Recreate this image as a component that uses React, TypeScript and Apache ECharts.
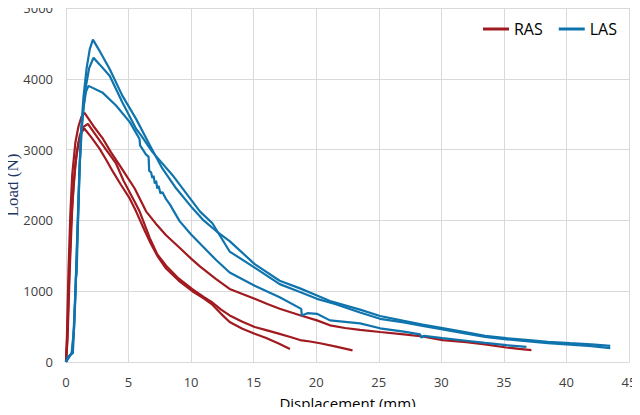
import React, { useEffect, useRef } from 'react';
import * as echarts from 'echarts';

// 位移-载荷曲线 (Displacement mm, Load N)
const rasSample1 = [
  [0, 0], [0.08, 400], [0.2, 1300], [0.35, 2100], [0.5, 2650], [0.75, 3100], [1.0, 3330], [1.25, 3470],
  [1.48, 3520], [2.2, 3330], [2.95, 3154], [3.6, 2960], [4.28, 2782], [4.9, 2610], [5.48, 2454], [6.4, 2128],
  [7.2, 1950], [8.0, 1790], [9.08, 1614], [10.0, 1460], [10.7, 1350], [12.0, 1170], [13.08, 1032], [14.1, 960],
  [15.08, 892], [16.1, 820], [17.08, 752], [18.7, 660], [20.06, 588], [21.1, 518], [22.3, 480], [23.5, 455],
  [25.1, 424], [27, 390], [28.5, 360], [30.1, 310], [32, 280], [33.5, 250], [35.2, 205], [36.2, 185], [37.2, 168],
];
const rasSample2 = [
  [0, 0], [0.1, 350], [0.25, 1200], [0.4, 1900], [0.6, 2500], [0.85, 2950], [1.1, 3200], [1.4, 3320],
  [1.75, 3364], [2.4, 3200], [3.2, 3000], [4.0, 2804], [4.6, 2560], [5.48, 2268], [5.88, 2128], [6.7, 1750],
  [7.3, 1520], [8.0, 1360], [9.0, 1180], [10.1, 1030], [11.0, 920], [11.7, 840], [12.4, 740], [13.08, 658],
  [14.1, 570], [15.08, 494], [16, 450], [17, 400], [18, 350], [18.7, 310], [19.5, 290], [20.3, 265],
  [21.5, 220], [22.9, 165],
];
const rasSample3 = [
  [0, 0], [0.12, 300], [0.3, 1300], [0.5, 2200], [0.75, 2800], [1.0, 3100], [1.25, 3250], [1.48, 3294],
  [2.0, 3180], [2.68, 3014], [3.2, 2860], [3.75, 2688], [4.4, 2500], [5.08, 2314], [5.6, 2128], [6.3, 1850],
  [6.7, 1700], [7.3, 1500], [8.0, 1320], [9.0, 1150], [10.1, 1000], [11.0, 900], [11.7, 810], [12.4, 680],
  [13.08, 564], [14.1, 470], [15.08, 400], [16, 340], [17, 260], [17.9, 185],
];
const lasSample1 = [
  [0, 0], [0.2, 60], [0.45, 130], [0.6, 400], [0.75, 1000], [0.9, 1800], [1.05, 2600], [1.2, 3250],
  [1.4, 3750], [1.65, 4150], [1.9, 4420], [2.15, 4554], [2.6, 4420], [3.5, 4134], [4.5, 3762], [5.6, 3434],
  [6.7, 3062], [7.7, 2734], [8.8, 2454], [10.1, 2174], [11.0, 2000], [12.0, 1850], [13.08, 1708], [15.08, 1382],
  [17.08, 1148], [18.7, 1040], [20.06, 938], [21.1, 860], [23.5, 740], [25.1, 650], [27, 580], [28.5, 530],
  [30.1, 480], [32, 420], [33.5, 370], [35.2, 336], [37, 310], [38.5, 285], [40.3, 266], [42, 250], [43.5, 228],
];
const lasSample2 = [
  [0, 0], [0.25, 70], [0.5, 140], [0.65, 500], [0.8, 1200], [0.95, 2000], [1.1, 2800], [1.3, 3400],
  [1.55, 3850], [1.85, 4150], [2.2, 4298], [2.7, 4200], [3.5, 4040], [4.5, 3668], [5.6, 3294], [6.0, 3200],
  [6.9, 2968], [8.5, 2642], [9.9, 2314], [10.7, 2128], [11.7, 1960], [13.08, 1560], [15.08, 1334], [17.08, 1100],
  [18.7, 990], [20.06, 892], [21.5, 820], [23.5, 700], [25.1, 610], [27, 560], [28.5, 510], [30.1, 460],
  [32, 400], [33.5, 355], [35.2, 320], [37, 290], [38.5, 265], [40.3, 245], [42, 225], [43.5, 196],
];
const lasSample3 = [
  [0, 0], [0.15, 75], [0.55, 126], [0.7, 700], [0.8, 1194], [0.85, 1250], [0.95, 1900], [1.08, 2700],
  [1.2, 3200], [1.4, 3600], [1.6, 3820], [1.8, 3900], [2.9, 3808], [4.0, 3622], [5.1, 3388], [5.88, 3150],
  [5.92, 3060], [6.4, 2930], [6.6, 2900], [6.65, 2700], [6.8, 2680], [6.9, 2600], [7.0, 2630], [7.1, 2520],
  [7.2, 2560], [7.3, 2450], [7.4, 2490], [7.55, 2380], [7.7, 2400], [8.0, 2300], [8.3, 2226], [9.08, 1990],
  [10.0, 1800], [11.0, 1620], [12.0, 1440], [13.08, 1264], [15.08, 1078], [17.08, 914], [18.8, 750], [18.85, 658],
  [19.3, 690], [20.06, 680], [21.1, 588], [23.5, 546], [25.1, 476], [27, 430], [28.3, 390], [28.4, 345],
  [28.6, 370], [30.1, 336], [32, 300], [33.5, 270], [35.2, 238], [36.8, 214],
];

const legendNames = ['RAS', 'LAS'];
const RED = '#a01a1f';
const BLUE = '#0f74ad';

const App: React.FC = () => {
  const chartRef = useRef<HTMLDivElement>(null);

  useEffect(() => {
    if (!chartRef.current) return;
    const chart = echarts.init(chartRef.current, undefined, { renderer: 'svg' });

    const mk = (name: string, data: number[][], color: string) => ({
      name,
      type: 'line',
      data,
      showSymbol: false,
      smooth: false,
      lineStyle: { color, width: 2.2 },
      itemStyle: { color },
    });

    chart.setOption({
      animation: false,
      backgroundColor: '#fff',
      grid: { left: 66, right: 11, top: 8, bottom: 53, containLabel: false, outerBoundsMode: 'none' },
      legend: {
        data: legendNames,
        right: 18,
        top: 16,
        icon: 'rect',
        itemWidth: 26,
        itemHeight: 3,
        itemGap: 16,
        textStyle: { fontFamily: 'Open Sans', fontSize: 16, color: '#000' },
      },
      xAxis: {
        type: 'value',
        min: 0,
        max: 45,
        interval: 5,
        name: 'Displacement (mm)',
        nameLocation: 'middle',
        nameGap: 33,
        nameMoveOverlap: false,
        nameTextStyle: { fontFamily: 'Open Sans', fontSize: 15, color: '#000' },
        axisLine: { show: true, lineStyle: { color: '#d9d9d9' } },
        axisTick: { show: false },
        axisLabel: {
          fontFamily: 'Open Sans', fontSize: 13, color: '#404040', margin: 13,
          formatter: (v: number) => String(v),
        },
        splitLine: { show: true, lineStyle: { color: '#d9d9d9' } },
      },
      yAxis: {
        type: 'value',
        min: 0,
        max: 5000,
        interval: 1000,
        name: 'Load (N)',
        nameLocation: 'middle',
        nameGap: 45,
        nameMoveOverlap: false,
        nameTextStyle: { fontFamily: "'Liberation Serif', 'DejaVu Serif', serif", fontSize: 17, color: '#1f3864' },
        axisLine: { show: true, lineStyle: { color: '#d9d9d9' } },
        axisTick: { show: false },
        axisLabel: {
          fontFamily: 'Open Sans', fontSize: 13, color: '#404040', margin: 13,
          formatter: (v: number) => String(v),
        },
        splitLine: { show: true, lineStyle: { color: '#d9d9d9' } },
      },
      series: [
        mk('RAS', rasSample1, RED),
        mk('RAS', rasSample2, RED),
        mk('RAS', rasSample3, RED),
        mk('LAS', lasSample1, BLUE),
        mk('LAS', lasSample2, BLUE),
        mk('LAS', lasSample3, BLUE),
      ],
    });

    return () => {
      chart.dispose();
    };
  }, []);

  return (
    <div style={{ margin: -8 }}>
      <div ref={chartRef} style={{ width: 640, height: 415 }} />
    </div>
  );
};

export default App;
